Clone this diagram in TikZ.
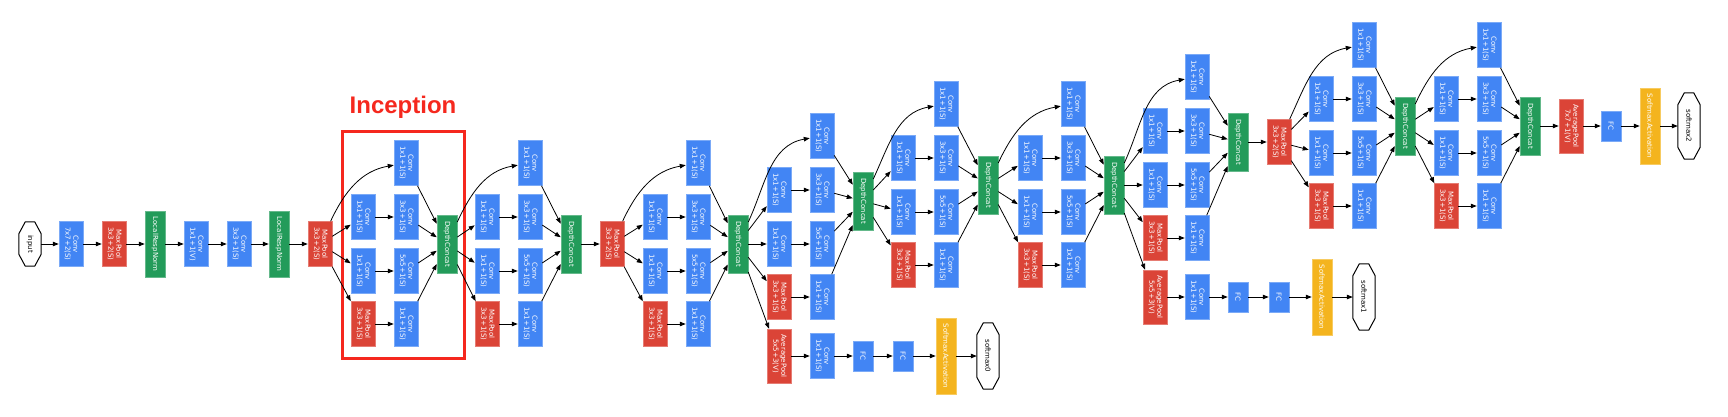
\documentclass[tikz,border=0pt]{standalone}
\usepackage{fontspec}
\setmainfont{DejaVu Sans}
\newfontfamily\headfont{Liberation Sans}
\usetikzlibrary{arrows.meta}
\definecolor{gblue}{RGB}{66,133,244}
\definecolor{gred}{RGB}{219,68,55}
\definecolor{ggreen}{RGB}{35,155,90}
\definecolor{gyellow}{RGB}{244,180,30}
\definecolor{ired}{RGB}{245,40,30}
\newcommand\two[2]{\rotatebox{-90}{\begin{tabular}{@{}c@{}}#1\\#2\end{tabular}}}
\newcommand\one[1]{\rotatebox{-90}{#1}}
\newcommand\octo[1]{\draw[octline] ([xshift=6.5pt]#1.north west) -- ([xshift=-6.5pt]#1.north east) -- ([yshift=-12pt]#1.north east) -- ([yshift=12pt]#1.south east) -- ([xshift=-6.5pt]#1.south east) -- ([xshift=6.5pt]#1.south west) -- ([yshift=12pt]#1.south west) -- ([yshift=-12pt]#1.north west) -- cycle;}
\tikzset{
  gbox/.style={rectangle, inner sep=0pt, text=white, font=\fontsize{7}{8}\selectfont, line width=0.5pt},
  nconv/.style={gbox, fill=gblue, draw=gblue!70!white, minimum width=24pt, minimum height=45pt},
  npool/.style={gbox, fill=gred, draw=gred!70!white, minimum width=24pt, minimum height=45pt},
  navg/.style={gbox, fill=gred, draw=gred!70!white, minimum width=24pt, minimum height=54pt},
  nlrn/.style={gbox, fill=ggreen, draw=ggreen!70!white, minimum width=20pt, minimum height=66pt},
  ndc/.style={gbox, fill=ggreen, draw=ggreen!70!white, minimum width=20pt, minimum height=58pt},
  nfc/.style={gbox, fill=gblue, draw=gblue!70!white, minimum width=20pt, minimum height=30pt},
  nsm/.style={gbox, fill=gyellow, draw=gyellow!70!white, minimum width=20pt, minimum height=76pt},
  noct/.style={rectangle, inner sep=0pt, text=black, font=\fontsize{7}{8}\selectfont, minimum width=22pt, minimum height=44pt},
  noctl/.style={noct, minimum height=66pt},
  octline/.style={draw=black, line width=1pt, line join=round},
  conn/.style={draw=black, line width=0.8pt, -{Triangle[length=6pt,width=4.5pt]}},
}
% #1 name, #2 source, #3 col1 x, #4 col2 x, #5 concat x, #6 concat y, #7 top row y
\newcommand\incep[7]{%
  \node[nconv] (#1a)  at (#4,#7)     {\two{Conv}{1x1+1(S)}};
  \node[nconv] (#1b1) at (#3,#7+54)  {\two{Conv}{1x1+1(S)}};
  \node[nconv] (#1b2) at (#4,#7+54)  {\two{Conv}{3x3+1(S)}};
  \node[nconv] (#1c1) at (#3,#7+108) {\two{Conv}{1x1+1(S)}};
  \node[nconv] (#1c2) at (#4,#7+108) {\two{Conv}{5x5+1(S)}};
  \node[npool] (#1d1) at (#3,#7+161) {\two{MaxPool}{3x3+1(S)}};
  \node[nconv] (#1d2) at (#4,#7+161) {\two{Conv}{1x1+1(S)}};
  \node[ndc]   (#1)   at (#5,#6)     {\one{DepthConcat}};
  \draw[conn] (#2) to[out=65,in=190] (#1a);
  \draw[conn] (#2) -- (#1b1);
  \draw[conn] (#2) -- (#1c1);
  \draw[conn] (#2) -- (#1d1);
  \draw[conn] (#1b1) -- (#1b2);
  \draw[conn] (#1c1) -- (#1c2);
  \draw[conn] (#1d1) -- (#1d2);
  \draw[conn] (#1a) -- (#1);
  \draw[conn] (#1b2) -- (#1);
  \draw[conn] (#1c2) -- (#1);
  \draw[conn] (#1d2) -- (#1);
}
\begin{document}
\begin{tikzpicture}[x=1pt,y=-1pt]
\path[use as bounding box] (0,0) rectangle (1728,416);
% highlight
\node[draw=ired, line width=3.5pt, minimum width=122pt, minimum height=227pt, inner sep=0pt] (hl) at (403.5,245) {};
\node[font=\headfont\bfseries\fontsize{24}{24}\selectfont, text=ired, anchor=base] (title) at (403,113) {Inception};
% stem
\node[noct] (input) at (30,244) {\one{input}}; \octo{input}
\node[nconv] (conv1) at (71,244) {\two{Conv}{7x7+2(S)}};
\node[npool] (pool1) at (114,244) {\two{MaxPool}{3x3+2(S)}};
\node[nlrn] (lrn1) at (155,244) {\one{LocalRespNorm}};
\node[nconv] (conv2) at (196,244) {\two{Conv}{1x1+1(V)}};
\node[nconv] (conv3) at (239,244) {\two{Conv}{3x3+1(S)}};
\node[nlrn] (lrn2) at (279,244) {\one{LocalRespNorm}};
\node[npool] (pool2) at (320,244) {\two{MaxPool}{3x3+2(S)}};
\draw[conn] (input) -- (conv1);
\draw[conn] (conv1) -- (pool1);
\draw[conn] (pool1) -- (lrn1);
\draw[conn] (lrn1) -- (conv2);
\draw[conn] (conv2) -- (conv3);
\draw[conn] (conv3) -- (lrn2);
\draw[conn] (lrn2) -- (pool2);
% inception 3
\incep{i3a}{pool2}{363}{406}{447}{244}{163}
\incep{i3b}{i3a}{487}{530}{571}{244}{163}
\node[npool] (pool3) at (612,244) {\two{MaxPool}{3x3+2(S)}};
\draw[conn] (i3b) -- (pool3);
% inception 4
\incep{i4a}{pool3}{655}{698}{738}{244}{163}
\incep{i4b}{i4a}{779}{822}{863}{201}{136}
\node[navg] (a0pool) at (779,356) {\two{AveragePool}{5x5+3(V)}};
\node[nconv] (a0conv) at (822,356) {\two{Conv}{1x1+1(S)}};
\node[nfc] (a0fc1) at (863,356) {\one{FC}};
\node[nfc] (a0fc2) at (903,356) {\one{FC}};
\node[nsm] (a0sm) at (946,356) {\one{SoftmaxActivation}};
\node[noctl] (a0out) at (988,356) {\one{softmax0}}; \octo{a0out}
\draw[conn] (i4a) -- (a0pool);
\draw[conn] (a0pool) -- (a0conv);
\draw[conn] (a0conv) -- (a0fc1);
\draw[conn] (a0fc1) -- (a0fc2);
\draw[conn] (a0fc2) -- (a0sm);
\draw[conn] (a0sm) -- (a0out);
\incep{i4c}{i4b}{903}{946}{988}{185}{104}
\incep{i4d}{i4c}{1030}{1073}{1114}{185}{104}
\incep{i4e}{i4d}{1155}{1197}{1238}{142}{77}
\node[navg] (a1pool) at (1155,297) {\two{AveragePool}{5x5+3(V)}};
\node[nconv] (a1conv) at (1197,297) {\two{Conv}{1x1+1(S)}};
\node[nfc] (a1fc1) at (1238,297) {\one{FC}};
\node[nfc] (a1fc2) at (1279,297) {\one{FC}};
\node[nsm] (a1sm) at (1322,297) {\one{SoftmaxActivation}};
\node[noctl] (a1out) at (1364,297) {\one{softmax1}}; \octo{a1out}
\draw[conn] (i4d) -- (a1pool);
\draw[conn] (a1pool) -- (a1conv);
\draw[conn] (a1conv) -- (a1fc1);
\draw[conn] (a1fc1) -- (a1fc2);
\draw[conn] (a1fc2) -- (a1sm);
\draw[conn] (a1sm) -- (a1out);
\node[npool] (pool4) at (1279,142) {\two{MaxPool}{3x3+2(S)}};
\draw[conn] (i4e) -- (pool4);
% inception 5
\incep{i5a}{pool4}{1321}{1364}{1405}{126}{45}
\incep{i5b}{i5a}{1446}{1489}{1530}{126}{45}
\node[navg] (fpool) at (1571,126) {\two{AveragePool}{7x7+1(V)}};
\node[nfc] (ffc) at (1611,126) {\one{FC}};
\node[nsm] (fsm) at (1650,126) {\one{SoftmaxActivation}};
\node[noctl] (fout) at (1689,126) {\one{softmax2}}; \octo{fout}
\draw[conn] (i5b) -- (fpool);
\draw[conn] (fpool) -- (ffc);
\draw[conn] (ffc) -- (fsm);
\draw[conn] (fsm) -- (fout);
\end{tikzpicture}
\end{document}
